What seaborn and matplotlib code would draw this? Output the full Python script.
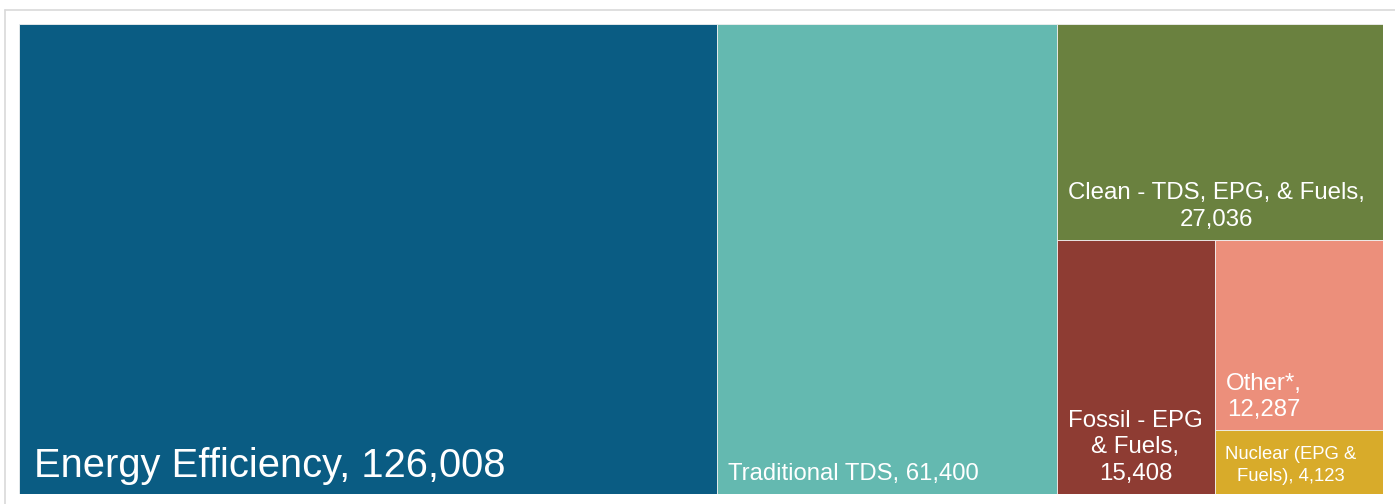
import matplotlib
matplotlib.use('Agg')
import matplotlib.pyplot as plt
import seaborn as sns
from matplotlib.patches import Rectangle
from matplotlib.lines import Line2D

# data
categories = ['Energy Efficiency', 'Traditional TDS', 'Clean - TDS, EPG, & Fuels',
              'Fossil - EPG & Fuels', 'Other*', 'Nuclear (EPG & Fuels)']
values = [126008, 61400, 27036, 15408, 12287, 4123]
display_labels = ['Energy Efficiency, 126,008',
                  'Traditional TDS, 61,400',
                  'Clean - TDS, EPG, & Fuels,\n27,036',
                  'Fossil - EPG\n& Fuels,\n15,408',
                  'Other*,\n12,287',
                  'Nuclear (EPG &\nFuels), 4,123']
colors = ['#0a5c83', '#64b9b0', '#6a813f', '#8e3c33', '#ec8f7b', '#d8ab2a']
label_sizes = [28.7, 17.2, 17.3, 17.3, 17.3, 13.3]


def layout_row(sizes, x, y, dx, dy):
    width = sum(sizes) / dy
    rects = []
    for s in sizes:
        rects.append((x, y, width, s / width))
        y += s / width
    return rects


def layout_col(sizes, x, y, dx, dy):
    height = sum(sizes) / dx
    rects = []
    for s in sizes:
        rects.append((x, y, s / height, height))
        x += s / height
    return rects


def layout(sizes, x, y, dx, dy):
    return layout_row(sizes, x, y, dx, dy) if dx >= dy else layout_col(sizes, x, y, dx, dy)


def leftover(sizes, x, y, dx, dy):
    if dx >= dy:
        width = sum(sizes) / dy
        return x + width, y, dx - width, dy
    height = sum(sizes) / dx
    return x, y + height, dx, dy - height


def worst_ratio(sizes, x, y, dx, dy):
    return max(max(w / h, h / w) for _, _, w, h in layout(sizes, x, y, dx, dy))


def squarify(sizes, x, y, dx, dy):
    # squarified treemap layout (Bruls et al.)
    if len(sizes) == 0:
        return []
    if len(sizes) == 1:
        return layout(sizes, x, y, dx, dy)
    i = 1
    while i < len(sizes) and worst_ratio(sizes[:i], x, y, dx, dy) >= worst_ratio(sizes[:i + 1], x, y, dx, dy):
        i += 1
    current, remaining = sizes[:i], sizes[i:]
    return layout(current, x, y, dx, dy) + squarify(remaining, *leftover(current, x, y, dx, dy))


sns.set_theme(style='white')
plt.rcParams['font.family'] = ['Liberation Sans', 'DejaVu Sans']

fig = plt.figure(figsize=(13.95, 5.04), dpi=100)
ax = fig.add_axes([19 / 1395, 10 / 504, 1364 / 1395, 470 / 504])

W, H = 1364, 470
total = sum(values)
sizes = [v * W * H / total for v in values]
rects = squarify(sizes, 0, 0, W, H)

for (x, y, w, h), color, lab, fs in zip(rects, colors, display_labels, label_sizes):
    ax.add_patch(Rectangle((x, y), w, h, facecolor=color, edgecolor='#f0f0f0',
                           linewidth=0.6))
    pad = 11 + (fs - 17) * 0.3
    ls = 1.27 if fs >= 17 else 1.42
    ax.text(x + pad, y + h - 9, lab, color='white', fontsize=fs,
            ha='left', va='bottom', multialignment='center', linespacing=ls)

ax.set_xlim(0, W)
ax.set_ylim(H, 0)
ax.axis('off')

# outer frame (only top and left edges show)
fig.add_artist(Line2D([4.5 / 1395, 4.5 / 1395], [0, (504 - 9.5) / 504],
                      color='#d9d9d9', lw=1.2))
fig.add_artist(Line2D([4.5 / 1395, 1], [(504 - 9.5) / 504, (504 - 9.5) / 504],
                      color='#d9d9d9', lw=1.2))

fig.savefig('out.png', dpi=100)
